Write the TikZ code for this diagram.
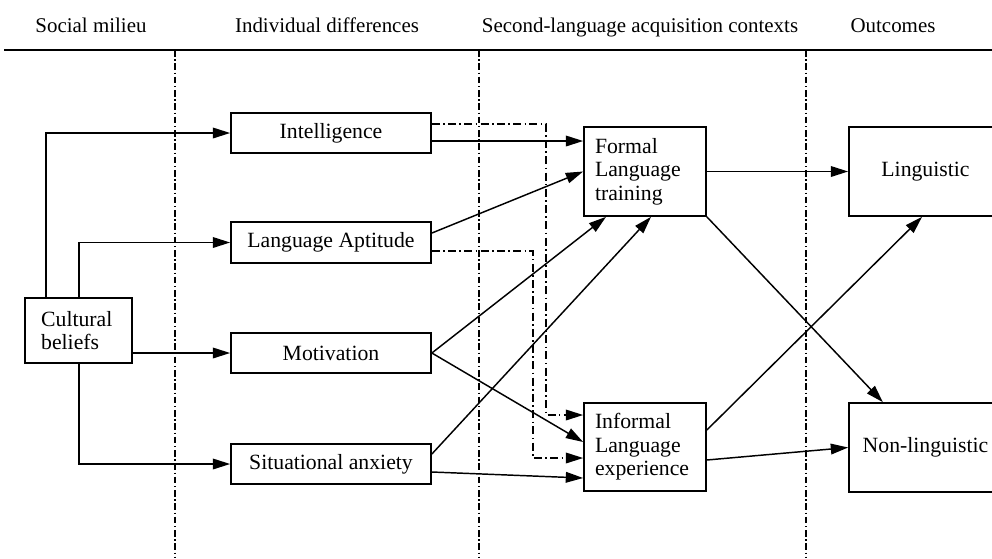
\documentclass[tikz,border=0pt]{standalone}
\usepackage{fontspec}
\setmainfont{Liberation Serif}
\usetikzlibrary{arrows.meta}
\tikzset{
  box/.style={draw, line width=1.3pt, inner sep=0pt, align=center, font=\fontsize{16.3}{17.6}\selectfont},
  hdr/.style={anchor=base, inner sep=0pt, font=\fontsize{15.7}{17}\selectfont},
  arr/.style={line width=1.1pt, -{Triangle[length=13pt,width=8pt]}},
  dd/.style={dash pattern=on 6pt off 2.5pt on 1.2pt off 2.5pt},
  sepline/.style={line width=1pt, dash pattern=on 5pt off 2pt on 1pt off 2pt},
}
\begin{document}
\begin{tikzpicture}[x=0.75pt,y=-0.75pt]
\clip (0,0) rectangle (992,558);
\fill[white] (0,0) rectangle (992,558);
% headers
\node[hdr] (h1) at (91,32) {Social milieu};
\node[hdr] (h2) at (327,32) {Individual differences};
\node[hdr] (h3) at (640,32) {Second-language acquisition contexts};
\node[hdr] (h4) at (893,32) {Outcomes};
\draw[line width=2pt] (4,50) -- (992,50);
% column separators
\draw[sepline] (175,50) -- (175,558);
\draw[sepline] (479,50) -- (479,558);
\draw[sepline] (806,50) -- (806,558);
% boxes
\node[box, minimum width=80.25pt, minimum height=48.75pt, text width=56pt, align=left] (cult) at (78.5,330.5) {Cultural\\beliefs};
\node[box, minimum width=150pt, minimum height=30pt] (intel) at (331,133) {Intelligence};
\node[box, minimum width=150pt, minimum height=30.75pt] (apt) at (331,242.5) {Language Aptitude};
\node[box, minimum width=150pt, minimum height=30pt] (mot) at (331,353) {Motivation};
\node[box, minimum width=150pt, minimum height=30pt] (sit) at (331,464) {Situational anxiety};
\node[box, minimum width=91.5pt, minimum height=66.75pt, text width=75pt, align=left] (formal) at (645,171.5) {Formal\\Language\\training};
\node[box, minimum width=91.5pt, minimum height=66pt, text width=75pt, align=left] (informal) at (645,447) {Informal\\Language\\experience};
\node[box, minimum width=114.75pt, minimum height=66.75pt] (ling) at (925.5,171.5) {Linguistic};
\node[box, minimum width=114.75pt, minimum height=66.75pt] (nonling) at (925.5,447.5) {Non-linguistic};
% cultural beliefs connectors
\draw[arr] ([xshift=16.5pt]cult.north west) |- (intel.west);
\draw[arr] ([xshift=41.25pt]cult.north west) |- (apt.west);
\draw[arr] (cult.east |- mot.west) -- (mot.west);
\draw[arr] ([xshift=41.25pt]cult.south west) |- (sit.west);
% individual differences to contexts
\coordinate (i1) at ([yshift=-6pt]intel.east);
\draw[arr] (i1) -- (i1 -| formal.west);
\coordinate (i2) at ([yshift=6.75pt]intel.east);
\coordinate (dx1) at (546,0);
\coordinate (e1) at ([yshift=24pt]informal.west);
\draw[arr, dd] (i2) -- (i2 -| dx1) -- (dx1 |- e1) -- (e1);
\draw[arr] ([yshift=7.1pt]apt.east) -- (formal.west);
\coordinate (a2) at ([yshift=-6.4pt]apt.east);
\coordinate (dx2) at (533,0);
\coordinate (e2) at ([yshift=-8.25pt]informal.west);
\draw[arr, dd] (a2) -- (a2 -| dx2) -- (dx2 |- e2) -- (e2);
\draw[arr] (mot.east) -- ([xshift=-29.25pt]formal.south);
\draw[arr] (mot.east) -- ([yshift=3.75pt]informal.west);
\draw[arr] ([yshift=7.5pt]sit.east) -- ([xshift=4.5pt]formal.south);
\draw[arr] ([yshift=-6pt]sit.east) -- ([yshift=-23.25pt]informal.west);
% contexts to outcomes
\draw[arr] (formal.east) -- (ling.west);
\draw[arr] (formal.south east) -- ([xshift=-32pt]nonling.north);
\draw[arr] ([yshift=12.75pt]informal.east) -- ([xshift=-2.6pt]ling.south);
\draw[arr] ([yshift=-9.75pt]informal.east) -- (nonling.west);
\end{tikzpicture}
\end{document}
